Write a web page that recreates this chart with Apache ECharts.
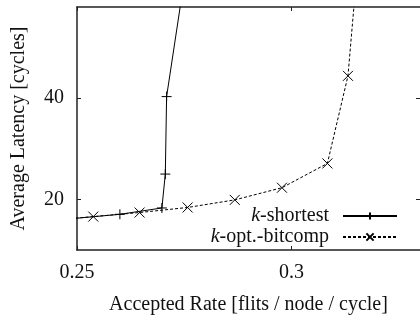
<!DOCTYPE html>
<html>
<head>
<meta charset="utf-8">
<script src="https://cdn.jsdelivr.net/npm/echarts@6/dist/echarts.min.js"></script>
<style>
  html, body { margin: 0; padding: 0; background: #fff; }
  #chart { width: 420px; height: 320px; }
</style>
</head>
<body>
<div id="chart"></div>
<script>
// accepted rate / latency (first and last points lie outside the frame)
const rateShortest = [0.245, 0.26, 0.2698, 0.2706, 0.2709, 0.2762]
const latShortest = [15.9, 17.05, 18.3, 25.0, 40.3, 70]
const rateBitcomp = [0.245, 0.2538, 0.2646, 0.2758, 0.2868, 0.2978, 0.3084, 0.3132, 0.3158]
const latBitcomp = [15.9, 16.6, 17.4, 18.4, 19.9, 22.3, 27.1, 44.4, 70]
const xTicks = [0.25, 0.3]
const yTicks = [20, 40]

const font = 'Liberation Serif'
const plusPath = 'path://M5,0L5,10M0,5L10,5'
const crossPath = 'path://M0,0L10,10M0,10L10,0'

function pairs(xs, ys) {
  return xs.map((x, i) => [x, ys[i]])
}

const axisLine = { show: true, lineStyle: { color: '#222', width: 1.5 } }

function xAxis(pos, labels) {
  return {
    type: 'value',
    position: pos,
    min: 0.25,
    max: 0.33,
    axisLine: axisLine,
    axisTick: { show: true, inside: true, length: 4, customValues: xTicks, lineStyle: { color: '#222' } },
    axisLabel: {
      show: labels,
      customValues: xTicks,
      margin: 13,
      fontFamily: font,
      fontSize: 20,
      color: '#111'
    },
    splitLine: { show: false }
  }
}

function yAxis(pos, labels) {
  return {
    type: 'value',
    position: pos,
    min: 10,
    max: 58,
    axisLine: axisLine,
    axisTick: { show: true, inside: true, length: 4, customValues: yTicks, lineStyle: { color: '#222' } },
    axisLabel: {
      show: labels,
      customValues: yTicks,
      margin: 13,
      fontFamily: font,
      fontSize: 20,
      color: '#111'
    },
    splitLine: { show: false }
  }
}

const bottomX = xAxis('bottom', true)
bottomX.name = 'Accepted Rate [flits / node / cycle]'
bottomX.nameLocation = 'middle'
bottomX.nameGap = 45
bottomX.nameTextStyle = { fontFamily: font, fontSize: 20, color: '#111' }

const leftY = yAxis('left', true)
leftY.name = 'Average Latency [cycles]'
leftY.nameLocation = 'middle'
leftY.nameGap = 48
leftY.nameTextStyle = { fontFamily: font, fontSize: 20, color: '#111' }

// the right border sits just outside the picture, only its ticks show
const rightY = yAxis('right', false)
rightY.axisLine = { show: false }

const option = {
  animation: false,
  backgroundColor: '#fff',
  grid: { left: 77, right: -2, top: 7, bottom: 70 },
  xAxis: [bottomX, xAxis('top', false)],
  yAxis: [leftY, rightY],
  legend: {
    orient: 'vertical',
    align: 'right',
    right: 17,
    top: 201,
    itemWidth: 54,
    itemHeight: 9,
    itemGap: 1,
    data: ['k-shortest', 'k-opt.-bitcomp'],
    formatter: name => '{i|k}' + name.slice(1),
    textStyle: {
      fontFamily: font,
      fontSize: 20,
      color: '#111',
      padding: [0, 9, 0, 0],
      rich: {
        i: { fontFamily: font, fontSize: 20, fontStyle: 'italic', color: '#111' }
      }
    }
  },
  series: [
    {
      name: 'k-shortest',
      type: 'line',
      data: pairs(rateShortest, latShortest),
      symbol: plusPath,
      symbolSize: 10,
      showAllSymbol: true,
      clip: true,
      lineStyle: { color: '#000', width: 1 },
      itemStyle: { color: '#000', borderColor: '#000', borderWidth: 1 }
    },
    {
      name: 'k-opt.-bitcomp',
      type: 'line',
      data: pairs(rateBitcomp, latBitcomp),
      symbol: crossPath,
      symbolSize: 10,
      showAllSymbol: true,
      clip: true,
      lineStyle: { color: '#000', width: 1, type: [3, 2] },
      itemStyle: { color: '#000', borderColor: '#000', borderWidth: 1 }
    }
  ]
}

const myChart = echarts.init(document.getElementById('chart'))
myChart.setOption(option)
</script>
</body>
</html>
